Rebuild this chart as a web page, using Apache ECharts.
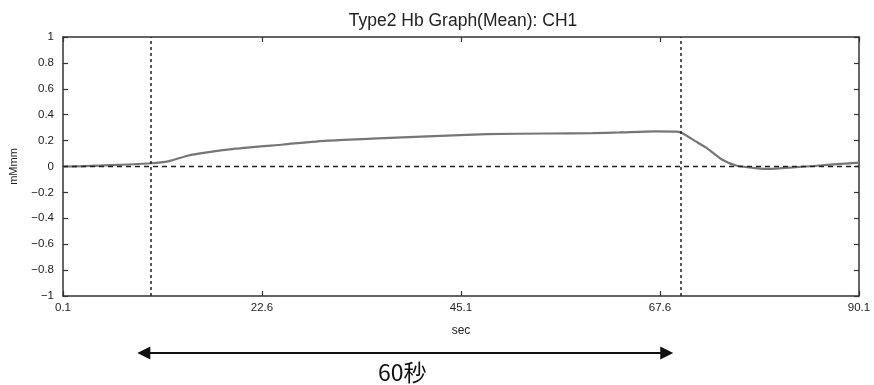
<!DOCTYPE html>
<html>
<head>
<meta charset="utf-8">
<script src="https://cdn.jsdelivr.net/npm/echarts@6/dist/echarts.min.js"></script>
<style>
  html, body { margin: 0; padding: 0; background: #fff; }
  #chart { width: 874px; height: 385px; }
</style>
</head>
<body>
<div id="chart"></div>
<script>
// 時間 (sec) と 平均Hb値 (mMmm)
const times = [0.1, 2.4, 6, 10, 12, 14.3, 16, 19.6, 25, 30, 35, 42, 48, 55, 60, 63, 67, 69.5, 70.2, 71.5, 72.9, 74.7, 76.3, 78.9, 80, 82.3, 85, 88, 90.1]
const values = [0, 0.003, 0.012, 0.025, 0.04, 0.085, 0.105, 0.138, 0.17, 0.2, 0.215, 0.235, 0.25, 0.255, 0.258, 0.263, 0.272, 0.27, 0.255, 0.2, 0.142, 0.05, 0.006, -0.016, -0.018, -0.008, 0.004, 0.02, 0.03]

// 目盛り
const xTicks = [0.1, 22.6, 45.1, 67.6, 90.1]
// タスク区間 (縦の点線)
const taskMarks = [10, 70]
// 下の矢印の範囲 (sec)
const arrowSpan = [8.5, 69.1]
const arrowLabel = '60秒'

const chart = echarts.init(document.getElementById('chart'))

const fmtY = v => {
  const s = String(Number(v.toFixed(1)))
  return s.replace('-', '\u2212')
}

const baseFont = 'Liberation Sans, Arial, sans-serif'
const labelFont = { fontFamily: baseFont, fontSize: 11.5, color: '#222' }
const axisLine = { show: true, onZero: false, lineStyle: { color: '#333', width: 1.5 } }
const tickStyle = { color: '#333', width: 1.2 }

const option = {
  backgroundColor: '#fff',
  animation: false,
  title: {
    text: 'Type2 Hb Graph(Mean): CH1',
    left: 458,
    textAlign: 'center',
    top: 7,
    textStyle: { fontFamily: baseFont, fontSize: 17.5, fontWeight: 'normal', color: '#222' }
  },
  grid: { left: 62, right: 15, top: 37, bottom: 89 },
  xAxis: [
    {
      type: 'value',
      min: 0.1,
      max: 90.1,
      name: 'sec',
      nameLocation: 'middle',
      nameGap: 29,
      nameTextStyle: { fontFamily: baseFont, fontSize: 12, color: '#222' },
      axisLine: axisLine,
      axisTick: { show: true, inside: true, length: 5, customValues: xTicks, lineStyle: tickStyle },
      axisLabel: Object.assign({ customValues: xTicks, margin: 6, formatter: v => v.toFixed(1) }, labelFont),
      splitLine: { show: false }
    },
    {
      type: 'value',
      position: 'top',
      min: 0.1,
      max: 90.1,
      axisLine: axisLine,
      axisTick: { show: true, inside: true, length: 5, customValues: xTicks, lineStyle: tickStyle },
      axisLabel: { show: false },
      splitLine: { show: false }
    }
  ],
  yAxis: [
    {
      type: 'value',
      min: -1,
      max: 1,
      interval: 0.2,
      name: 'mMmm',
      nameLocation: 'middle',
      nameRotate: 90,
      nameGap: 44,
      nameTextStyle: { fontFamily: baseFont, fontSize: 11, color: '#222' },
      axisLine: axisLine,
      axisTick: { show: true, inside: true, length: 5, lineStyle: tickStyle },
      axisLabel: Object.assign({ formatter: fmtY, margin: 9 }, labelFont),
      splitLine: { show: false }
    },
    {
      type: 'value',
      position: 'right',
      min: -1,
      max: 1,
      interval: 0.2,
      axisLine: axisLine,
      axisTick: { show: true, inside: true, length: 5, lineStyle: tickStyle },
      axisLabel: { show: false },
      splitLine: { show: false }
    }
  ],
  series: [
    {
      type: 'line',
      data: times.map((t, i) => [t, values[i]]),
      showSymbol: false,
      symbol: 'none',
      smooth: 0.2,
      lineStyle: { color: '#767676', width: 2.2 },
      markLine: {
        silent: true,
        symbol: 'none',
        label: { show: false },
        data: [
          ...taskMarks.map(t => ({ xAxis: t, lineStyle: { color: '#222', type: [3, 3], width: 1.5 } })),
          { yAxis: 0, lineStyle: { color: '#222', type: [5, 4], width: 1.3 } }
        ]
      }
    }
  ]
}

chart.setOption(option)

// 矢印 (軸の座標からx位置を求める)
const ax0 = chart.convertToPixel({ xAxisIndex: 0 }, arrowSpan[0])
const ax1 = chart.convertToPixel({ xAxisIndex: 0 }, arrowSpan[1])
const ay = 353
const head = 13
chart.setOption({
  graphic: [
    {
      type: 'line',
      shape: { x1: ax0 + head - 1, y1: ay, x2: ax1 - head + 1, y2: ay },
      style: { stroke: '#111', lineWidth: 2.2 }
    },
    {
      type: 'polygon',
      shape: { points: [[ax0, ay], [ax0 + head, ay - 6.5], [ax0 + head, ay + 6.5]] },
      style: { fill: '#111' }
    },
    {
      type: 'polygon',
      shape: { points: [[ax1, ay], [ax1 - head, ay - 6.5], [ax1 - head, ay + 6.5]] },
      style: { fill: '#111' }
    },
    {
      type: 'text',
      x: (ax0 + ax1) / 2 - 3,
      y: 372,
      style: {
        text: arrowLabel,
        fill: '#111',
        font: '23px "Noto Sans CJK JP", sans-serif',
        align: 'center',
        verticalAlign: 'middle'
      }
    }
  ]
})
</script>
</body>
</html>
